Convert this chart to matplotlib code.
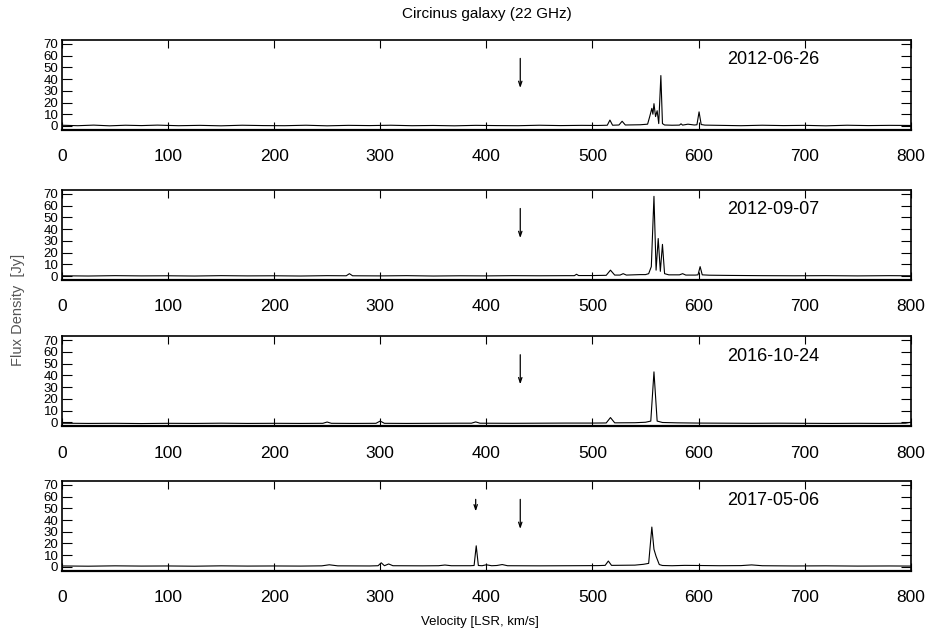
import matplotlib.pyplot as plt
import numpy as np

plt.rcParams["font.family"] = ["Liberation Sans", "DejaVu Sans"]

# H2O maser spectra of the Circinus galaxy, four epochs
dates = ["2012-06-26", "2012-09-07", "2016-10-24", "2017-05-06"]

vel_1 = [0, 15, 30, 45, 60, 75, 90, 110, 130, 150, 170, 190, 210, 230, 250, 270,
         290, 310, 330, 350, 370, 390, 410, 430, 450, 470, 490, 505, 514, 516.5,
         519, 525, 528, 531, 545, 552, 554, 556, 557, 558, 559.5, 561, 562.5,
         564.5, 566, 568, 575, 582, 583.5, 585, 590, 596, 598.5, 600.5, 602.5,
         606, 620, 640, 660, 680, 700, 720, 740, 760, 780, 800]
flux_1 = [0.6, 0.2, 0.7, 0.1, 0.6, 0.3, 0.7, 0.2, 0.5, 0.1, 0.6, 0.3, 0.2, 0.6,
          0.1, 0.5, 0.3, 0.6, 0.2, 0.4, 0.1, 0.5, 0.3, 0.2, 0.6, 0.3, 0.5, 0.4,
          0.6, 5.0, 0.6, 0.8, 4.0, 0.8, 1.0, 1.5, 8.0, 15.0, 10.0, 19.0, 8.0,
          13.0, 2.0, 43.0, 2.0, 0.8, 0.6, 0.7, 1.8, 0.7, 1.5, 0.8, 1.0, 12.0,
          1.2, 0.7, 0.5, 0.2, 0.6, 0.3, 0.5, 0.1, 0.6, 0.3, 0.5, 0.4]

vel_2 = [0, 25, 50, 75, 100, 125, 150, 175, 200, 225, 250, 268, 271, 274, 300,
         325, 350, 375, 400, 425, 450, 475, 483, 485, 487, 500, 513, 517, 521,
         526, 529, 532, 545, 550, 553, 555.5, 558, 560, 562, 564, 566, 568, 572,
         582, 585, 588, 597, 599.5, 601.5, 603.5, 610, 630, 660, 690, 720, 750,
         780, 800]
flux_2 = [0.2, 0.0, 0.3, 0.1, 0.2, 0.0, 0.3, 0.1, 0.2, 0.0, 0.3, 0.2, 2.0, 0.2,
          0.1, 0.3, 0.0, 0.2, 0.1, 0.3, 0.2, 0.3, 0.3, 1.5, 0.4, 0.4, 0.6, 5.0,
          0.8, 0.8, 2.0, 0.8, 1.2, 1.2, 2.0, 8.0, 68.0, 5.0, 32.0, 4.0, 27.0,
          2.0, 1.0, 1.0, 2.0, 0.8, 0.8, 1.0, 8.0, 1.0, 0.7, 0.5, 0.3, 0.2, 0.3,
          0.1, 0.3, 0.2]

vel_3 = [0, 25, 50, 75, 100, 125, 150, 175, 200, 225, 246, 250, 254, 275, 296,
         300, 304, 325, 350, 375, 386, 390, 394, 425, 450, 475, 500, 513, 517,
         521, 540, 550, 555, 558, 561, 566, 580, 600, 625, 650, 675, 700, 725,
         750, 775, 795, 800]
flux_3 = [-0.8, -1.0, -0.9, -1.1, -0.9, -1.0, -0.8, -1.0, -0.9, -1.0, -0.9, 0.2,
          -0.9, -1.0, -0.9, 1.0, -0.9, -1.0, -0.9, -0.8, -0.8, 0.3, -0.8, -0.9,
          -0.8, -0.7, -0.7, -0.6, 4.0, -0.5, -0.4, 0.0, 1.0, 43.0, 1.0, -0.2,
          -0.5, -0.7, -0.8, -0.9, -0.8, -0.9, -1.0, -0.9, -1.0, -0.8, 0.0]

vel_4 = [0, 25, 50, 75, 100, 125, 150, 175, 200, 225, 245, 252, 260, 290, 298,
         301, 304, 308, 312, 340, 355, 361, 367, 385, 388.5, 390.5, 392.5, 396,
         400, 405, 410, 415, 420, 450, 480, 505, 512, 515, 518, 540, 548, 553,
         556, 558, 560, 563, 566, 575, 587, 600, 620, 640, 650, 660, 690, 720,
         750, 780, 800]
flux_4 = [0.8, 0.6, 0.9, 0.7, 0.8, 0.6, 0.9, 0.7, 0.8, 0.7, 0.9, 1.8, 0.9, 0.8,
          1.0, 3.5, 1.0, 2.5, 1.0, 0.9, 1.0, 1.6, 1.0, 1.0, 1.2, 18.0, 1.2, 1.0,
          1.8, 1.0, 1.2, 2.0, 1.0, 0.9, 1.0, 1.1, 1.3, 5.0, 1.3, 1.5, 2.2, 3.0,
          34.0, 15.0, 9.0, 2.0, 1.2, 1.0, 1.3, 1.2, 1.0, 1.1, 1.7, 1.0, 0.8,
          0.9, 0.7, 0.8, 0.7]

velocities = [vel_1, vel_2, vel_3, vel_4]
fluxes = [flux_1, flux_2, flux_3, flux_4]

# arrow markers: velocity, start flux, end flux
arrows = [
    [(432, 60, 30)],
    [(432, 60, 30)],
    [(432, 60, 30)],
    [(390, 60, 45), (432, 60, 30)],
]

panel_bottoms = [0.797, 0.5625, 0.334, 0.108]
left, width, height = 0.066, 0.906, 0.1406

fig = plt.figure(figsize=(9.37, 6.4), dpi=100)

for i in range(4):
    ax = fig.add_axes([left, panel_bottoms[i], width, height])
    ax.plot(velocities[i], fluxes[i], color="black", lw=0.8)
    for v, y0, y1 in arrows[i]:
        ax.annotate("", xy=(v, y1), xytext=(v, y0),
                    arrowprops=dict(arrowstyle="->,head_length=0.35,head_width=0.12",
                                    color="black", lw=0.9))
    ax.text(0.838, 0.78, dates[i], transform=ax.transAxes, ha="center",
            va="center", fontsize=13)
    ax.set_xlim(0, 800)
    ax.set_ylim(-3.4, 73.4)
    ax.set_xticks(np.arange(0, 801, 100))
    ax.set_yticks(np.arange(0, 71, 10))
    ax.tick_params(axis="x", direction="in", top=True, length=6, width=0.8,
                   labelsize=12.5, pad=14)
    ax.tick_params(axis="y", direction="in", right=True, length=7, width=0.8,
                   labelsize=9.5, pad=2.5)
    for s in ax.spines.values():
        s.set_linewidth(1.2)
    ax.spines["bottom"].set_linewidth(1.6)

fig.text(0.52, 0.978, "Circinus galaxy (22 GHz)", ha="center", va="center",
         fontsize=11)
fig.text(0.512, 0.028, "Velocity [LSR, km/s]", ha="center", va="center",
         fontsize=9.5)
fig.text(0.019, 0.515, "Flux Density  [Jy]", rotation=90, ha="center",
         va="center", fontsize=10.5, color="#555555")

fig.savefig("out.png", dpi=100)
